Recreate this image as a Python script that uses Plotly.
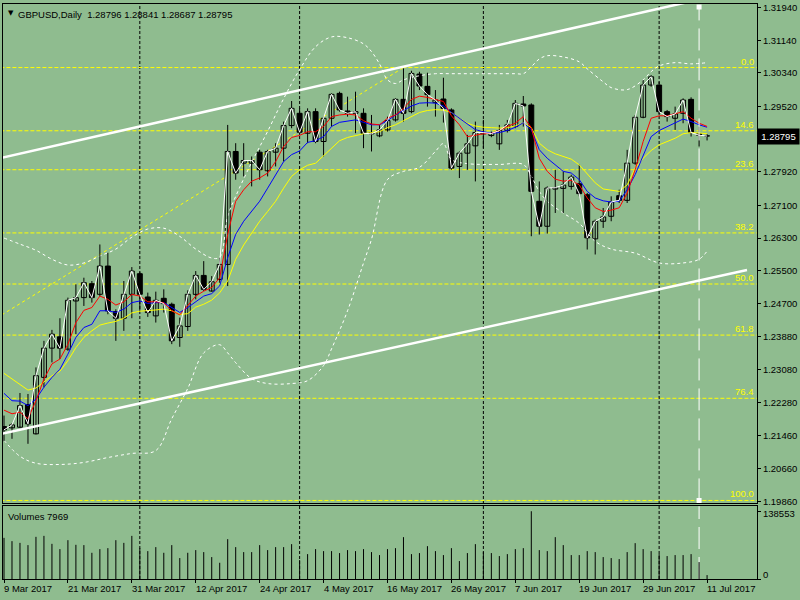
import pandas as pd
import plotly.graph_objects as go

# daily bars, 9 Mar 2017 .. 11 Jul 2017
dates = pd.bdate_range("2017-03-09", "2017-07-11")

opens = [1.21688, 1.21656, 1.21672, 1.22225, 1.21510, 1.22891, 1.23606, 1.23883, 1.23582, 1.24760,
         1.24842, 1.25183, 1.24923, 1.25614, 1.24500, 1.24338, 1.24923, 1.25427, 1.24858, 1.24395,
         1.24825, 1.24679, 1.23866, 1.24135, 1.24922, 1.25385, 1.25003, 1.25288, 1.25654, 1.28417,
         1.28132, 1.28132, 1.28400, 1.27945, 1.28400, 1.28498, 1.29051, 1.29351, 1.28864, 1.29392,
         1.28661, 1.29229, 1.29839, 1.29408, 1.29351, 1.29351, 1.28880, 1.28799, 1.28945, 1.29189,
         1.29693, 1.29392, 1.30310, 1.30010, 1.29612, 1.29701, 1.29433, 1.28051, 1.28376, 1.28555,
         1.28848, 1.28807, 1.28604, 1.28929, 1.29026, 1.29579, 1.29555, 1.27198, 1.26588, 1.27498,
         1.27515, 1.27563, 1.27628, 1.27360, 1.26279, 1.26710, 1.26832, 1.27336, 1.27222, 1.28132,
         1.29254, 1.30042, 1.30042, 1.29392, 1.29230, 1.29351, 1.29693, 1.28848, 1.28796]
highs = [1.21957, 1.21770, 1.22509, 1.22485, 1.23135, 1.23785, 1.24053, 1.24338, 1.24842, 1.25167,
         1.25329, 1.25248, 1.26142, 1.25939, 1.24557, 1.25248, 1.25589, 1.25476, 1.24964, 1.24988,
         1.25045, 1.24720, 1.24354, 1.25020, 1.25491, 1.25735, 1.25369, 1.25816, 1.29067, 1.28620,
         1.28620, 1.28295, 1.28457, 1.28457, 1.28620, 1.29148, 1.29652, 1.29473, 1.29473, 1.29473,
         1.29270, 1.29839, 1.29880, 1.29758, 1.29880, 1.29473, 1.29311, 1.29067, 1.29270, 1.29717,
         1.30449, 1.30392, 1.30367, 1.30343, 1.29920, 1.30221, 1.29473, 1.28417, 1.28823, 1.29148,
         1.29189, 1.28904, 1.29067, 1.29189, 1.29676, 1.29774, 1.29595, 1.27685, 1.27563, 1.27970,
         1.27929, 1.27848, 1.28092, 1.27401, 1.26751, 1.27035, 1.27320, 1.27482, 1.28457, 1.29311,
         1.30164, 1.30286, 1.30123, 1.29433, 1.29514, 1.29717, 1.29742, 1.29026, 1.28841]
lows = [1.21331, 1.21388, 1.21656, 1.21266, 1.21493, 1.22647, 1.23257, 1.23338, 1.23541, 1.23948,
        1.24638, 1.24720, 1.24882, 1.24435, 1.23785, 1.24029, 1.24338, 1.24517, 1.24370, 1.24232,
        1.24476, 1.23704, 1.23639, 1.24029, 1.24800, 1.25003, 1.24987, 1.25206, 1.25125, 1.27726,
        1.27807, 1.27563, 1.27726, 1.27807, 1.28051, 1.28173, 1.28986, 1.28823, 1.28620, 1.28620,
        1.28295, 1.29026, 1.29392, 1.29270, 1.28864, 1.28498, 1.28417, 1.28766, 1.28904, 1.29148,
        1.29148, 1.29351, 1.29920, 1.29514, 1.29270, 1.29124, 1.27970, 1.27767, 1.27970, 1.27685,
        1.28498, 1.28766, 1.28457, 1.28880, 1.28986, 1.29026, 1.26344, 1.26385, 1.26409, 1.26913,
        1.26913, 1.27482, 1.27320, 1.26019, 1.25897, 1.26548, 1.26710, 1.27157, 1.27157, 1.28092,
        1.29230, 1.30002, 1.29311, 1.29148, 1.28945, 1.29108, 1.28783, 1.28539, 1.28687]
closes = [1.21607, 1.21729, 1.22200, 1.21753, 1.22932, 1.23606, 1.23948, 1.23606, 1.24777, 1.24842,
          1.25207, 1.24842, 1.25614, 1.24517, 1.24338, 1.24923, 1.25492, 1.24923, 1.24476, 1.24777,
          1.24695, 1.23785, 1.24151, 1.24923, 1.25385, 1.25044, 1.25231, 1.25654, 1.28417, 1.27888,
          1.28197, 1.28197, 1.27970, 1.28417, 1.28498, 1.29051, 1.29473, 1.28888, 1.29392, 1.28661,
          1.29229, 1.29815, 1.29433, 1.29351, 1.29392, 1.28864, 1.28848, 1.28945, 1.29173, 1.29693,
          1.29351, 1.30327, 1.30018, 1.29807, 1.29676, 1.29473, 1.28010, 1.28376, 1.28604, 1.28880,
          1.28880, 1.28856, 1.28929, 1.29067, 1.29595, 1.29530, 1.27442, 1.26588, 1.27523, 1.27531,
          1.27596, 1.27791, 1.27385, 1.26304, 1.26710, 1.26816, 1.27181, 1.27222, 1.28132, 1.29254,
          1.30042, 1.30245, 1.29392, 1.29270, 1.29335, 1.29676, 1.28880, 1.28815, 1.28795]
volumes = [84100, 77400, 73900, 69300, 86200, 88200, 71900, 61100, 79400, 69900,
           69300, 53600, 61100, 63100, 79400, 73900, 88200, 63100, 57000, 65200,
           53600, 69300, 42800, 53600, 59100, 55000, 44800, 33200, 81500, 65200,
           55000, 55000, 69300, 59100, 65200, 65200, 71300, 38700, 50900, 61100,
           57000, 57000, 53000, 59100, 57000, 61100, 55000, 48900, 61100, 63100,
           85600, 50900, 53000, 67200, 57000, 48900, 63100, 36700, 53000, 71300,
           55000, 53000, 46900, 50900, 61100, 63100, 138553, 59100, 57000, 85600,
           69300, 48900, 48900, 57000, 55000, 44800, 42800, 40700, 55000, 73300,
           61100, 57000, 50900, 46900, 48900, 48900, 50900, 34600, 7969]

# moving averages as drawn on the chart
ma_red = [1.2209, 1.2200, 1.2204, 1.2188, 1.2232, 1.2285, 1.2322, 1.2334, 1.2370, 1.2423,
          1.2453, 1.2460, 1.2488, 1.2480, 1.2466, 1.2474, 1.2492, 1.2488, 1.2474, 1.2474,
          1.2472, 1.2452, 1.2442, 1.2464, 1.2488, 1.2500, 1.2509, 1.2533, 1.2639, 1.2720,
          1.2748, 1.2769, 1.2777, 1.2789, 1.2817, 1.2854, 1.2876, 1.2881, 1.2890, 1.2890,
          1.2903, 1.2927, 1.2931, 1.2933, 1.2931, 1.2917, 1.2909, 1.2907, 1.2923, 1.2931,
          1.2947, 1.2969, 1.2977, 1.2974, 1.2969, 1.2964, 1.2929, 1.2907, 1.2878, 1.2882,
          1.2885, 1.2886, 1.2893, 1.2903, 1.2911, 1.2927, 1.2900, 1.2825, 1.2793, 1.2774,
          1.2769, 1.2771, 1.2760, 1.2728, 1.2704, 1.2695, 1.2698, 1.2704, 1.2740, 1.2797,
          1.2866, 1.2923, 1.2929, 1.2929, 1.2934, 1.2939, 1.2923, 1.2911, 1.2903]
ma_blue = [1.2250, 1.2232, 1.2231, 1.2220, 1.2236, 1.2265, 1.2289, 1.2309, 1.2346, 1.2387,
           1.2411, 1.2419, 1.2452, 1.2452, 1.2448, 1.2456, 1.2472, 1.2476, 1.2470, 1.2472,
           1.2472, 1.2460, 1.2448, 1.2460, 1.2474, 1.2488, 1.2494, 1.2513, 1.2582, 1.2639,
           1.2671, 1.2695, 1.2720, 1.2752, 1.2785, 1.2817, 1.2834, 1.2843, 1.2864, 1.2868,
           1.2878, 1.2903, 1.2913, 1.2916, 1.2919, 1.2913, 1.2907, 1.2907, 1.2917, 1.2931,
           1.2943, 1.2953, 1.2960, 1.2961, 1.2960, 1.2953, 1.2937, 1.2923, 1.2907, 1.2895,
           1.2890, 1.2886, 1.2888, 1.2893, 1.2901, 1.2912, 1.2895, 1.2846, 1.2825, 1.2809,
           1.2793, 1.2789, 1.2773, 1.2744, 1.2728, 1.2721, 1.2718, 1.2720, 1.2748, 1.2785,
           1.2830, 1.2878, 1.2893, 1.2903, 1.2911, 1.2921, 1.2915, 1.2907, 1.2901]
ma_yellow = [1.2299, 1.2285, 1.2271, 1.2258, 1.2263, 1.2279, 1.2293, 1.2304, 1.2330, 1.2362,
             1.2387, 1.2403, 1.2417, 1.2422, 1.2426, 1.2434, 1.2447, 1.2451, 1.2452, 1.2454,
             1.2456, 1.2452, 1.2443, 1.2445, 1.2461, 1.2468, 1.2478, 1.2496, 1.2525, 1.2578,
             1.2613, 1.2643, 1.2671, 1.2695, 1.2720, 1.2752, 1.2781, 1.2797, 1.2808, 1.2813,
             1.2832, 1.2851, 1.2868, 1.2876, 1.2881, 1.2885, 1.2888, 1.2890, 1.2900, 1.2907,
             1.2917, 1.2927, 1.2937, 1.2942, 1.2944, 1.2943, 1.2937, 1.2923, 1.2911, 1.2904,
             1.2901, 1.2900, 1.2899, 1.2900, 1.2904, 1.2912, 1.2900, 1.2862, 1.2846, 1.2836,
             1.2830, 1.2823, 1.2809, 1.2787, 1.2765, 1.2750, 1.2747, 1.2744, 1.2760, 1.2801,
             1.2825, 1.2844, 1.2858, 1.2866, 1.2874, 1.2885, 1.2888, 1.2887, 1.2885]

# bollinger bands (bar number, price)
bb_upper_bar = [0, 2, 4, 6, 8, 10, 12, 14, 16, 18, 20, 22, 24, 26, 27, 28, 29, 31, 33, 35,
                37, 39, 41, 43, 45, 46, 47, 48, 49, 50, 52, 54, 56, 58, 60, 62, 64, 65, 66, 67,
                68, 70, 72, 73, 75, 76, 78, 80, 81, 82, 84, 86, 88]
bb_upper = [1.2630, 1.2615, 1.2600, 1.2578, 1.2564, 1.2569, 1.2586, 1.2603, 1.2632, 1.2652,
            1.2654, 1.2634, 1.2603, 1.2581, 1.2583, 1.2683, 1.2732, 1.2815, 1.2891, 1.2971,
            1.3042, 1.3098, 1.3122, 1.3120, 1.3105, 1.3086, 1.3056, 1.3017, 1.3008, 1.3017,
            1.3027, 1.3032, 1.3032, 1.3032, 1.3032, 1.3032, 1.3032, 1.3032, 1.3049, 1.3068,
            1.3076, 1.3073, 1.3061, 1.3044, 1.3012, 1.2998, 1.2993, 1.3017, 1.3037, 1.3051,
            1.3059, 1.3056, 1.3059]
bb_lower_bar = [0, 2, 4, 7, 10, 13, 16, 19, 21, 23, 25, 27, 28, 29, 31, 33, 36, 38, 40, 41,
                43, 45, 46, 48, 50, 52, 54, 55, 56, 58, 62, 65, 66, 67, 68, 70, 72, 74, 76, 79,
                82, 85, 87, 88]
bb_lower = [1.2135, 1.2096, 1.2079, 1.2076, 1.2081, 1.2093, 1.2103, 1.2110, 1.2188, 1.2262,
            1.2349, 1.2369, 1.2349, 1.2325, 1.2286, 1.2274, 1.2274, 1.2281, 1.2318, 1.2359,
            1.2452, 1.2569, 1.2627, 1.2773, 1.2793, 1.2803, 1.2842, 1.2861, 1.2822, 1.2812,
            1.2810, 1.2810, 1.2781, 1.2744, 1.2720, 1.2691, 1.2666, 1.2622, 1.2603, 1.2593,
            1.2569, 1.2569, 1.2578, 1.2598]

price_ticks = [1.31940, 1.31140, 1.30340, 1.29520, 1.27920, 1.27100, 1.26300, 1.25500,
               1.24700, 1.23880, 1.23080, 1.22280, 1.21460, 1.20660, 1.19860]
vol_ticks = [0, 138553]

# fibonacci retracement: 16 Jan 2017 low -> 18 May 2017 high
fib_levels = [0.0, 14.6, 23.6, 38.2, 50.0, 61.8, 76.4, 100.0]
fib_low_bar, fib_low = -38, 1.1988
fib_high_bar, fib_high = 50, 1.3047

# channel lines (bar number, price)
chan_top_bar, chan_top = [-1, 86], [1.2823, 1.3209]
chan_bot_bar, chan_bot = [-1, 93], [1.2148, 1.2552]

vline_bar = 87
vline_prices = [1.3195, 1.1988]

last_price = 1.28795
title = "GBPUSD,Daily  1.28796 1.28841 1.28687 1.28795"

BG = "#8FBC8F"
FONT = "Liberation Sans"

bars = list(range(len(closes)))

fig = go.Figure()

# bollinger bands
fig.add_trace(go.Scatter(x=bb_upper_bar, y=bb_upper, mode="lines", line=dict(color="white", width=1, dash="3px,3px"),
                         line_shape="spline", xaxis="x", yaxis="y"))
fig.add_trace(go.Scatter(x=bb_lower_bar, y=bb_lower, mode="lines", line=dict(color="white", width=1, dash="3px,3px"),
                         line_shape="spline", xaxis="x", yaxis="y"))

# wicks
wx, wy = [], []
for i in bars:
    wx += [i, i, None]
    wy += [lows[i], highs[i], None]
fig.add_trace(go.Scatter(x=wx, y=wy, mode="lines", line=dict(color="black", width=1), xaxis="x", yaxis="y"))

# bodies
up = [i for i in bars if closes[i] >= opens[i]]
dn = [i for i in bars if closes[i] < opens[i]]
for idx, fill in ((up, BG), (dn, "black")):
    fig.add_trace(go.Bar(
        x=idx,
        base=[min(opens[i], closes[i]) for i in idx],
        y=[max(abs(closes[i] - opens[i]), 0.00004) for i in idx],
        width=0.62, marker=dict(color=fill, line=dict(color="black", width=1)),
        xaxis="x", yaxis="y"))

for vals, col in ((ma_yellow, "#FFFF00"), (ma_blue, "#0000FF"), (ma_red, "#FF0000"), (closes, "white")):
    fig.add_trace(go.Scatter(x=bars, y=vals, mode="lines", line=dict(color=col, width=1), xaxis="x", yaxis="y"))

fig.add_trace(go.Scatter(x=[vline_bar, vline_bar], y=vline_prices, mode="markers",
                         marker=dict(symbol="square", size=5, color="white"), xaxis="x", yaxis="y"))

# volumes
vx, vy = [], []
for i in bars:
    vx += [i, i, None]
    vy += [0, volumes[i], None]
fig.add_trace(go.Scatter(x=vx, y=vy, mode="lines", line=dict(color="black", width=1), xaxis="x2", yaxis="y2"))

shapes = []
rng = fib_high - fib_low
for lv in fib_levels:
    p = fib_high - lv / 100 * rng
    shapes.append(dict(type="line", xref="x", yref="y", x0=fib_low_bar, x1=100, y0=p, y1=p, layer="below",
                       line=dict(color="#FFFF00", width=1, dash="4px,2px")))
shapes.append(dict(type="line", xref="x", yref="y", x0=fib_low_bar, x1=fib_high_bar, y0=fib_low, y1=fib_high,
                   layer="below", line=dict(color="#FFFF00", width=1, dash="3px,3px")))

# month separators
for i in bars[1:]:
    if dates[i].month != dates[i - 1].month:
        shapes.append(dict(type="line", xref="x", yref="paper", x0=i, x1=i, y0=0, y1=1, layer="below",
                           line=dict(color="black", width=1, dash="3px,2px")))

for bx, by in ((chan_top_bar, chan_top), (chan_bot_bar, chan_bot)):
    shapes.append(dict(type="line", xref="x", yref="y", x0=bx[0], x1=bx[1], y0=by[0], y1=by[1],
                       line=dict(color="white", width=2.5)))

shapes.append(dict(type="line", xref="x", yref="y", x0=vline_bar, x1=vline_bar,
                   y0=vline_prices[1], y1=vline_prices[0], line=dict(color="white", width=1, dash="22px,8px")))
shapes.append(dict(type="line", xref="x2", yref="y2 domain", x0=vline_bar, x1=vline_bar, y0=0, y1=1,
                   layer="below", line=dict(color="white", width=1, dash="22px,8px")))

ann = []
ann.append(dict(xref="paper", yref="paper", x=0, y=1, xanchor="left", yanchor="top", xshift=3, yshift=-3,
                text="▼", showarrow=False, font=dict(family="DejaVu Sans", size=7, color="black")))
ann.append(dict(xref="paper", yref="paper", x=0, y=1, xanchor="left", yanchor="top", xshift=13, yshift=-3,
                text=title.replace("  ", "&nbsp; "), showarrow=False, font=dict(family=FONT, size=9.5, color="black")))
ann.append(dict(xref="paper", yref="paper", x=0, y=0.1265, xanchor="left", yanchor="top", xshift=3, yshift=-3,
                text="Volumes %d" % volumes[-1], showarrow=False, font=dict(family=FONT, size=9.5, color="black")))
for lv in fib_levels:
    p = fib_high - lv / 100 * rng
    ann.append(dict(xref="paper", yref="y", x=1, y=p, xanchor="right", yanchor="bottom", xshift=-1, yshift=-1,
                    text="%.1f" % lv, showarrow=False, font=dict(family=FONT, size=9.5, color="#FFFF00")))
for i in bars[::8]:
    ann.append(dict(xref="x2", yref="paper", x=i, y=0, xanchor="left", yanchor="top", xshift=-2, yshift=-2,
                    text=dates[i].strftime("%-d %b %Y"), showarrow=False,
                    font=dict(family=FONT, size=9.5, color="black")))
# volume scale labels sit a little off their ticks, as in the terminal
for v, dy in zip(vol_ticks, (5, -2)):
    ann.append(dict(xref="paper", yref="y2", x=1, y=v, xanchor="left", yanchor="middle", xshift=4, yshift=dy,
                    text=str(v), showarrow=False, font=dict(family=FONT, size=9.5, color="black")))
ann.append(dict(xref="paper", yref="y", x=1, y=last_price, xanchor="left", yanchor="middle",
                text="%.5f" % last_price, showarrow=False, bgcolor="black", width=39, height=13,
                font=dict(family=FONT, size=9.5, color="white")))

axis_common = dict(showgrid=False, zeroline=False, showline=True, mirror=True, linecolor="black", linewidth=1)
x_range = [-0.125, 94.25]

fig.update_layout(
    width=800, height=600,
    margin=dict(l=2, r=43, t=2, b=21),
    paper_bgcolor=BG, plot_bgcolor=BG,
    showlegend=False, barmode="overlay", hovermode=False,
    font=dict(family=FONT, size=9.5, color="black"),
    xaxis=dict(domain=[0, 1], anchor="y", range=x_range, showticklabels=False, ticks="", **axis_common),
    yaxis=dict(domain=[0.1317, 1], anchor="x", side="right", range=[1.19811, 1.32025],
               tickvals=price_ticks, ticktext=["%.5f" % v for v in price_ticks], ticklabeloverflow="allow",
               ticks="outside", ticklen=3, tickcolor="black", **axis_common),
    xaxis2=dict(domain=[0, 1], anchor="y2", range=x_range, tickvals=bars[::8], ticktext=[""] * len(bars[::8]),
                ticks="outside", ticklen=3, tickcolor="black", **axis_common),
    yaxis2=dict(domain=[0, 0.1265], anchor="x2", side="right", range=[0, 148740],
                tickvals=vol_ticks, showticklabels=False,
                ticks="outside", ticklen=3, tickcolor="black", **axis_common),
    shapes=shapes,
    annotations=ann,
)

fig.write_html("out.html", config={"displayModeBar": False},
               post_script="document.body.style.margin='0';document.body.style.background='%s';" % BG)
